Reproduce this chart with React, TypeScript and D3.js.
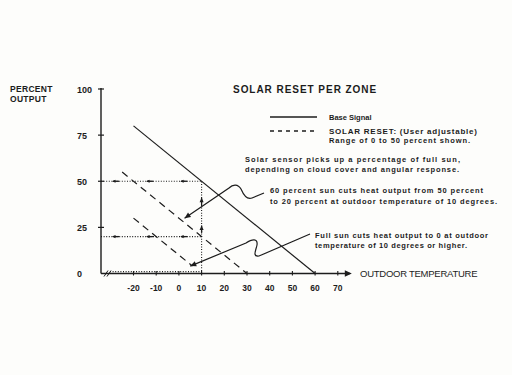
import * as d3 from "d3";

// outdoor temperature ticks and percent output ticks
const tempTicks = [-20, -10, 0, 10, 20, 30, 40, 50, 60, 70];
const outputTicks = [0, 25, 50, 75, 100];

// base signal (solid) and two solar reset lines (dashed)
const baseSignal = [{ t: -20, p: 80 }, { t: 60, p: 0 }];
const reset60 = [{ t: -25, p: 55 }, { t: 30, p: 0 }];
const resetFull = [{ t: -20, p: 30 }, { t: 6, p: 4 }];

// dotted guide readings at 10 degrees
const guideTemp = 10;
const guideOutputs = [50, 20, 1];

const W = 512, H = 375;
const font = "'Liberation Sans', Arial, sans-serif";
const ink = "#1c1c1c";

export default function App() {
  const x = d3.scaleLinear().domain([-20, 70]).range([133.5, 337.8]);
  const y = d3.scaleLinear().domain([0, 100]).range([273.5, 89]);
  const axisX = 101;
  const axisY = y(0);

  const line = d3.line<{ t: number; p: number }>().x(d => x(d.t)).y(d => y(d.p));

  // small arrowhead, pointing in direction (dx,dy)
  const arrow = (px: number, py: number, dx: number, dy: number, s = 4) => {
    const len = Math.hypot(dx, dy);
    const ux = dx / len, uy = dy / len;
    const bx = px - ux * s, by = py - uy * s;
    const nx = -uy * s * 0.45, ny = ux * s * 0.45;
    return `M${px},${py}L${bx + nx},${by + ny}L${bx - nx},${by - ny}Z`;
  };

  const gx = x(guideTemp);

  // annotation squiggles, tips aimed at the reset lines
  const tip1 = { x: x(2.5), y: y(30) };
  const tip2 = { x: x(5), y: y(4) };
  const p1 = d3.path();
  p1.moveTo(tip1.x, tip1.y);
  p1.lineTo(229, 188);
  p1.bezierCurveTo(233, 184, 238, 184, 241, 189);
  p1.bezierCurveTo(244, 196, 247, 200, 252, 198);
  p1.lineTo(264, 193);
  const p2 = d3.path();
  p2.moveTo(tip2.x, tip2.y);
  p2.lineTo(246, 243);
  p2.bezierCurveTo(252, 239, 258, 238, 257, 245);
  p2.bezierCurveTo(256, 250, 252, 257, 259, 256);
  p2.lineTo(310, 234);

  const textBold = { fontFamily: font, fontWeight: 700, fill: ink } as const;

  return (
    <div>
      <style>{`body{margin:0}`}</style>
      <svg width={W} height={H} style={{ display: "block", background: "#fdfdfb" }}>
        {/* axis title */}
        <text x={10} y={91.5} fontSize={8.5} {...textBold} letterSpacing={0.3}>PERCENT</text>
        <text x={10} y={101.5} fontSize={8.5} {...textBold} letterSpacing={0.3}>OUTPUT</text>

        {/* y axis */}
        <line x1={axisX} x2={axisX} y1={y(100) - 1} y2={axisY} stroke={ink} strokeWidth={1.4} />
        {outputTicks.filter(d => d > 0).map(d => (
          <line key={d} x1={axisX - 3} x2={axisX + 3} y1={y(d)} y2={y(d)} stroke={ink} strokeWidth={1.2} />
        ))}
        {outputTicks.map(d => (
          <text key={d} x={77} y={y(d) + 3.5} fontSize={9} {...textBold}>{d}</text>
        ))}

        {/* x axis with break */}
        <line x1={axisX} x2={x(70) + 12} y1={axisY} y2={axisY} stroke={ink} strokeWidth={1.4} />
        <path d={arrow(x(70) + 14, axisY, 1, 0, 7)} fill={ink} />
        <line x1={104} x2={108} y1={axisY + 3} y2={axisY - 3} stroke={ink} strokeWidth={1} />
        <line x1={107} x2={111} y1={axisY + 3} y2={axisY - 3} stroke={ink} strokeWidth={1} />
        {tempTicks.map(d => (
          <line key={d} x1={x(d)} x2={x(d)} y1={axisY - 2.5} y2={axisY + 2} stroke={ink} strokeWidth={1.1} />
        ))}
        {tempTicks.map(d => (
          <text key={d} x={x(d)} y={291} fontSize={8.5} {...textBold} textAnchor="middle">{d}</text>
        ))}
        <text x={360} y={276.5} fontSize={9.5} fontFamily={font} fill={ink} textLength={118} letterSpacing={0.5}>OUTDOOR TEMPERATURE</text>

        {/* lines */}
        <path d={line(baseSignal) ?? ""} fill="none" stroke={ink} strokeWidth={1.2} />
        <path d={line(reset60) ?? ""} fill="none" stroke={ink} strokeWidth={1.2} strokeDasharray="7 5" />
        <path d={line(resetFull) ?? ""} fill="none" stroke={ink} strokeWidth={1.2} strokeDasharray="7 5" />

        {/* dotted guides */}
        <line x1={gx} x2={gx} y1={axisY} y2={y(50)} stroke={ink} strokeWidth={1.1} strokeDasharray="1 1.6" />
        {guideOutputs.map(v => (
          <line key={v} x1={v < 5 ? 110 : axisX} x2={gx} y1={y(v)} y2={y(v)} stroke={ink} strokeWidth={1.1} strokeDasharray="1 1.6" />
        ))}
        {guideOutputs.filter(v => v > 5).map(v =>
          [x(-29), x(-14), x(1)].map((px, i) => (
            <g key={`${v}-${i}`}>
              <line x1={px} x2={px + 6} y1={y(v)} y2={y(v)} stroke={ink} strokeWidth={1.3} />
              <path d={arrow(px - 1, y(v), -1, 0, 3.5)} fill={ink} />
            </g>
          ))
        )}
        <path d={arrow(gx, y(41), 0, -1, 4.5)} fill={ink} />
        <line x1={gx} x2={gx} y1={y(41)} y2={y(37)} stroke={ink} strokeWidth={1.3} />
        <path d={arrow(gx, y(26), 0, -1, 4.5)} fill={ink} />
        <line x1={gx} x2={gx} y1={y(26)} y2={y(22)} stroke={ink} strokeWidth={1.3} />

        {/* annotation arrows */}
        <path d={p1.toString()} fill="none" stroke={ink} strokeWidth={1.2} />
        <path d={arrow(tip1.x, tip1.y, tip1.x - 229, tip1.y - 188, 6)} fill={ink} />
        <path d={p2.toString()} fill="none" stroke={ink} strokeWidth={1.2} />
        <path d={arrow(tip2.x, tip2.y, tip2.x - 246, tip2.y - 243, 6)} fill={ink} />

        {/* title */}
        <text x={233} y={93} fontSize={10} {...textBold} letterSpacing={0.8} textLength={144}>SOLAR RESET PER ZONE</text>

        {/* legend */}
        <line x1={270} x2={317} y1={117} y2={117} stroke={ink} strokeWidth={1.3} />
        <line x1={270} x2={317} y1={131} y2={131} stroke={ink} strokeWidth={1.3} strokeDasharray="4 4" />
        <text x={329} y={120} fontSize={7.5} {...textBold}>Base Signal</text>
        <text x={329} y={133.5} fontSize={8} {...textBold} textLength={148}>SOLAR RESET: (User adjustable)</text>
        <text x={329} y={143} fontSize={7.5} {...textBold} textLength={141}>Range of 0 to 50 percent shown.</text>

        {/* notes */}
        <text x={245} y={162} fontSize={7.5} {...textBold} textLength={215}>Solar sensor picks up a percentage of full sun,</text>
        <text x={245} y={172} fontSize={7.5} {...textBold} textLength={214}>depending on cloud cover and angular response.</text>
        <text x={270} y={193} fontSize={7.5} {...textBold} textLength={213}>60 percent sun cuts heat output from 50 percent</text>
        <text x={270} y={203.5} fontSize={7.5} {...textBold} textLength={227}>to 20 percent at outdoor temperature of 10 degrees.</text>
        <text x={315} y={238} fontSize={7.5} {...textBold} textLength={173}>Full sun cuts heat output to 0 at  outdoor</text>
        <text x={315} y={247.5} fontSize={7.5} {...textBold} textLength={152}>temperature of 10 degrees or higher.</text>
      </svg>
    </div>
  );
}
